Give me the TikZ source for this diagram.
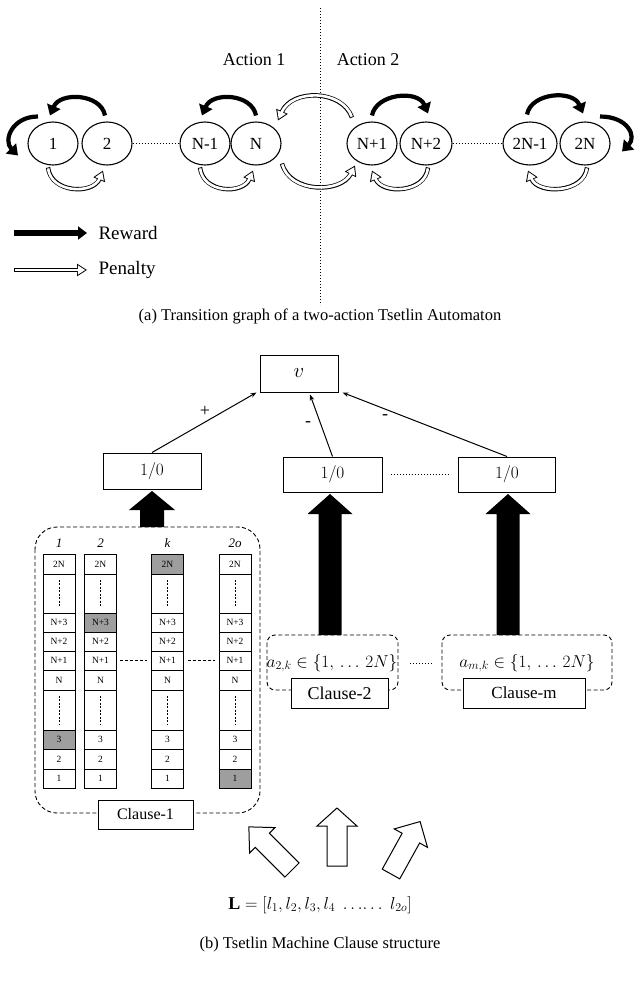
\documentclass[tikz,border=0pt]{standalone}
\usepackage{fontspec}
\setmainfont{Liberation Serif}
\usetikzlibrary{arrows.meta,calc,shapes.geometric}
\newcommand\fsz[1]{\fontsize{#1}{#1}\selectfont}
\newcommand\penarr[1]{\draw[penout] #1;\draw[penin] #1;}
\newcommand\fatarr[4]{({0},{-(#2)/2}) -- ({(#1)-(#4)},{-(#2)/2}) -- ({(#1)-(#4)},{-(#3)/2}) -- ({#1},{0}) -- ({(#1)-(#4)},{(#3)/2}) -- ({(#1)-(#4)},{(#2)/2}) -- ({0},{(#2)/2}) -- cycle}
\definecolor{shadecol}{gray}{0.62}
\begin{document}
\begin{tikzpicture}[x=1pt,y=-1pt,
  reward/.style={line width=4.2pt,-{Triangle[length=10pt,width=14pt]}},
  penout/.style={line width=4.4pt,-{Triangle[length=10pt,width=12pt]}},
  penin/.style={white,line width=2.6pt,shorten <=0.9pt,shorten >=1.75pt,-{Triangle[length=7.35pt,width=8.8pt]}},
  stnode/.style={draw,ellipse,minimum width=50pt,minimum height=43pt,inner sep=0pt,line width=1.1pt,font=\fsz{17}},
  rbox/.style={draw,line width=1pt,inner sep=0pt,fill=white},
  dashbox/.style={draw,line width=0.9pt,dash pattern=on 4pt off 2.5pt},
  cell/.style={draw,line width=0.8pt,minimum width=32pt,inner sep=0pt,font=\fsz{9.5}},
  conn/.style={line width=1pt,-{Stealth[length=6pt,width=4.5pt]}},
  hollowarr/.style={draw,fill=white,line width=1pt,line join=miter},
  blackarr/.style={fill=black},
  dotline/.style={line width=1pt,dash pattern=on 1.3pt off 1.7pt}
]
\useasboundingbox (0,0) rectangle (640,985);

% ---------------- (a) ----------------
\coordinate (dtop) at (320,8);
\coordinate (dbot) at (320,305);
\draw[dotline] (dtop) -- (dbot);
\node[font=\fsz{18}] (act1) at (254,60) {Action 1};
\node[font=\fsz{18}] (act2) at (368,60) {Action 2};

\node[stnode] (n1) at (53,143.5) {1};
\node[stnode] (n2) at (107,143.5) {2};
\node[stnode] (nN1) at (205,143.5) {N-1};
\node[stnode] (nN) at (256,143.5) {N};
\node[stnode] (nNp1) at (372,143.5) {N+1};
\node[stnode,minimum width=52pt] (nNp2) at (426,143.5) {N+2};
\node[stnode,minimum width=54pt] (n2N1) at (530,143.5) {2N-1};
\node[stnode] (n2N) at (585,143.5) {2N};

\draw[dotline] (n2.east) -- (nN1.west);
\draw[dotline] (nNp2.east) -- (n2N1.west);

% rewards
\draw[reward] ($(n2)+(-2,-28)$) .. controls +(-4,-22) and +(10,-24) .. ($(n1)+(-3,-28)$);
\draw[reward] ($(n1)+(-15,-27)$) .. controls +(-26,0) and +(-15,-15) .. ($(n1)+(-35,12)$);
\draw[reward] ($(nN)+(0,-28)$) .. controls +(-4,-22) and +(10,-24) .. ($(nN1)+(-3,-28)$);
\draw[reward] ($(nNp1)+(0,-28)$) .. controls +(4,-22) and +(-10,-24) .. ($(nNp2)+(2,-30)$);
\draw[reward] ($(n2N1)+(-3,-29)$) .. controls +(4,-22) and +(-10,-24) .. ($(n2N)+(-2,-30)$);
\draw[reward] ($(n2N)+(15,-27)$) .. controls +(28,0) and +(15,-15) .. ($(n2N)+(37,8)$);

% penalties
\penarr{($(n1)+(-5,24)$) .. controls +(3,26) and +(-10,24) .. ($(n2)+(-4,27)$)}
\penarr{($(nN1)+(-5,24)$) .. controls +(3,26) and +(-10,24) .. ($(nN)+(-3,27)$)}
\penarr{($(nNp2)+(2,24)$) .. controls +(-3,26) and +(10,24) .. ($(nNp1)+(0,27)$)}
\penarr{($(n2N)+(2,24)$) .. controls +(-3,26) and +(10,24) .. ($(n2N1)+(-2,27)$)}
\penarr{($(nN)+(26,20)$) .. controls +(8,30) and +(-14,28) .. ($(nNp1)+(-17,22)$)}
\penarr{($(nNp1)+(-20,-26)$) .. controls +(-10,-28) and +(14,-32) .. ($(nN)+(22,-23)$)}

% legend
\coordinate (rw0) at (14,233);
\coordinate (rw1) at (87,233);
\draw[line width=5.5pt,-{Triangle[length=9pt,width=13pt]}] (rw0) -- (rw1);
\node[font=\fsz{19},anchor=west] (rwt) at (95,233) {Reward};
\coordinate (pn0) at (14,270);
\coordinate (pn1) at (87,270);
\penarr{(pn0) -- (pn1)}
\node[font=\fsz{19},anchor=west] (pnt) at (95,270) {Penalty};

\node[font=\fsz{16.5}] (capa) at (320,316) {(a) Transition graph of a two-action Tsetlin Automaton};

% ---------------- (b) ----------------
\node[rbox,minimum width=78pt,minimum height=37pt,font=\fsz{20}] (v) at (299,373.5) {$v$};
\node[rbox,minimum width=98pt,minimum height=36pt,font=\fsz{19}] (zl) at (152,471) {$1/0$};
\node[rbox,minimum width=99pt,minimum height=35pt,font=\fsz{19}] (zm) at (332.5,474.5) {$1/0$};
\node[rbox,minimum width=97pt,minimum height=35pt,font=\fsz{19}] (zr) at (507,474.5) {$1/0$};
\draw[dotline] ($(zm.east)+(8,0)$) -- ($(zr.west)+(-8,0)$);

\draw[conn] (zl.north) -- ($(v.south west)+(-3,0)$);
\draw[conn] (zm.north) -- ($(v.south)+(11,2)$);
\draw[conn] (zr.north) -- ($(v.south east)+(4,0)$);
\node[font=\fsz{18}] (lp) at (205,411) {+};
\node[font=\fsz{18}] (lm1) at (308,424) {-};
\node[font=\fsz{18}] (lm2) at (385,417) {-};

% clause 1
\draw[dashbox,rounded corners=22pt] (35,527) rectangle (260,813);
\foreach \cx/\cn/\hd/\sr in {59/a/1/8, 100.5/b/2/3, 167.5/k/k/1, 235/o/2o/10}{
  \node[font=\fsz{13}\itshape] (h\cn) at (\cx,543) {\hd};
  \foreach \rw/\lab/\yt/\yb/\ty in {1/2N/554/574/1, 2//574/613/0, 3/N+3/613/632/1, 4/N+2/632/651/1, 5/N+1/651/670/1, 6/N/670/690/1, 7//690/730/0, 8/3/730/749/1, 9/2/749/769/1, 10/1/769/788/1}{
    \ifnum\rw=\sr\relax\def\cfill{shadecol}\else\def\cfill{white}\fi
    \node[cell,fill=\cfill,minimum height={(\yb-\yt)*1pt}] (c\cn\rw) at (\cx,{(\yt+\yb)/2}) {\lab};
    \ifnum\ty=0\relax
      \draw[line width=0.9pt,dash pattern=on 2pt off 1.5pt] ($(c\cn\rw.north)+(0,6)$) -- ($(c\cn\rw.south)+(0,-6)$);
    \fi
  }
}
\draw[line width=0.7pt,dash pattern=on 3pt off 2pt] ($(cb5.east)+(3,0)$) -- ($(ck5.west)+(-4,0)$);
\draw[line width=0.7pt,dash pattern=on 3pt off 2pt] ($(ck5.east)+(4,0)$) -- ($(co5.west)+(-4,0)$);
\node[rbox,minimum width=95pt,minimum height=29pt,font=\fsz{16}] (cl1) at (145.5,814.5) {Clause-1};

% clause 2 and m
\draw[dashbox,rounded corners=8pt] (267,635) rectangle (398,690);
\draw[dashbox,rounded corners=8pt] (442,635) rectangle (612,690);
\node[font=\fsz{17}] (a2) at (332,663) {$a_{2,k}\in\{1,\,\ldots\,2N\}$};
\node[font=\fsz{17}] (am) at (527,663) {$a_{m,k}\in\{1,\,\ldots\,2N\}$};
\node[rbox,minimum width=97pt,minimum height=30pt,font=\fsz{18}] (cl2) at (339.5,693) {Clause-2};
\node[rbox,minimum width=122pt,minimum height=30pt,font=\fsz{17}] (clm) at (524,693) {Clause-m};
\draw[dotline] (410,663) -- (432,663);

% black arrows
\fill[blackarr,shift={(152,527)},rotate=90] \fatarr{36}{24}{46}{19};
\fill[blackarr,shift={(330,635)},rotate=90] \fatarr{141}{23}{45}{20};
\fill[blackarr,shift={(508,635)},rotate=90] \fatarr{141}{23}{45}{20};

% hollow input arrows
\draw[hollowarr,shift={(292,870)},rotate=135] \fatarr{61}{20}{36}{19};
\draw[hollowarr,shift={(337,866)},rotate=90] \fatarr{58}{20}{40}{18};
\draw[hollowarr,shift={(391,874)},rotate=61] \fatarr{60}{20}{38}{19};

\node[font=\fsz{18}] (Lvec) at (320,905) {$\mathbf{L}=[l_1,l_2,l_3,l_4\;\ldots\!\ldots\;l_{2o}]$};
\node[font=\fsz{16.5}] (capb) at (320,945) {(b) Tsetlin Machine Clause structure};
\end{tikzpicture}
\end{document}
